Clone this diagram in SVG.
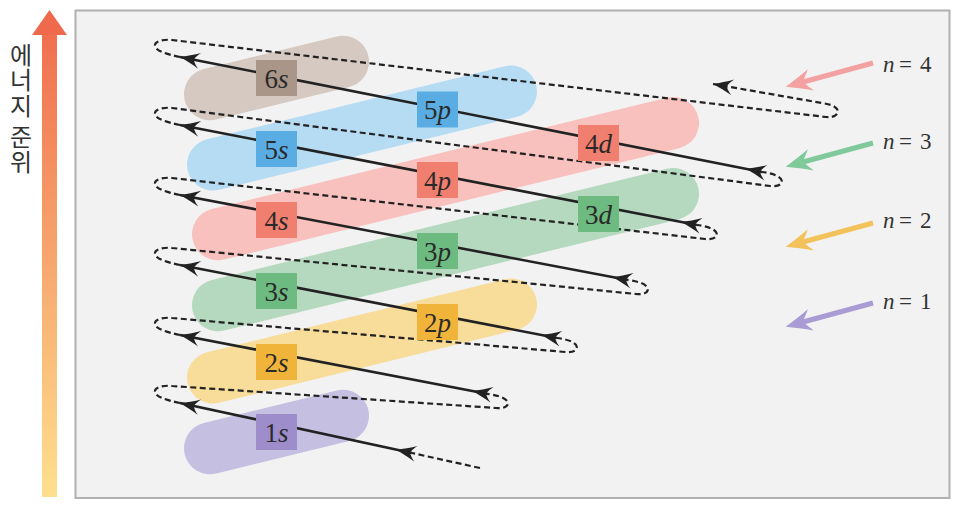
<svg xmlns="http://www.w3.org/2000/svg" width="960" height="510" viewBox="0 0 960 510">
<defs>
<style>
.band{fill:none;stroke-linecap:round;stroke-width:52}
.box{stroke:none}
.lbl{font-family:'Liberation Serif','Times New Roman',serif;font-size:27px;fill:#2a2a2a;text-anchor:middle}
.it{font-style:italic}
.solid{fill:none;stroke:#222;stroke-width:2.6}
.dash{fill:none;stroke:#222;stroke-width:2.2;stroke-dasharray:6 3.5}
.nlbl{font-family:'Liberation Serif','Times New Roman',serif;font-size:23px;fill:#333}
.carrow{fill:none;stroke-width:5}
</style>
<linearGradient id="eg" x1="0" y1="10" x2="0" y2="497" gradientUnits="userSpaceOnUse">
<stop offset="0" stop-color="#ef6a4c"/>
<stop offset="1" stop-color="#fee08e"/>
</linearGradient>
<marker id="aEnd" viewBox="-22 -10 24 20" markerWidth="24" markerHeight="20" refX="0" refY="0" orient="auto" markerUnits="userSpaceOnUse">
<path d="M0,0 C-6,-2 -14,-5 -20,-8 C-16,-4 -15,-2 -14,0 C-15,2 -16,4 -20,8 C-14,5 -6,2 0,0Z" fill="#222"/>
</marker>
<marker id="aStart" viewBox="-22 -10 24 20" markerWidth="24" markerHeight="20" refX="-16" refY="0" orient="auto" markerUnits="userSpaceOnUse">
<path d="M0,0 C-6,-2 -14,-5 -20,-8 C-16,-4 -15,-2 -14,0 C-15,2 -16,4 -20,8 C-14,5 -6,2 0,0Z" fill="#222"/>
</marker>
<marker id="mPink" viewBox="-28 -12 30 24" markerWidth="30" markerHeight="24" refX="-18" refY="0" orient="auto" markerUnits="userSpaceOnUse">
<path d="M0,0 C-8,-3 -18,-7 -26,-11 C-22,-5 -19,-2 -18,0 C-19,2 -22,5 -26,11 C-18,7 -8,3 0,0Z" fill="#f4a1a1"/>
</marker>
<marker id="mGreen" viewBox="-28 -12 30 24" markerWidth="30" markerHeight="24" refX="-18" refY="0" orient="auto" markerUnits="userSpaceOnUse">
<path d="M0,0 C-8,-3 -18,-7 -26,-11 C-22,-5 -19,-2 -18,0 C-19,2 -22,5 -26,11 C-18,7 -8,3 0,0Z" fill="#80c99b"/>
</marker>
<marker id="mYellow" viewBox="-28 -12 30 24" markerWidth="30" markerHeight="24" refX="-18" refY="0" orient="auto" markerUnits="userSpaceOnUse">
<path d="M0,0 C-8,-3 -18,-7 -26,-11 C-22,-5 -19,-2 -18,0 C-19,2 -22,5 -26,11 C-18,7 -8,3 0,0Z" fill="#f3c25a"/>
</marker>
<marker id="mPurple" viewBox="-28 -12 30 24" markerWidth="30" markerHeight="24" refX="-18" refY="0" orient="auto" markerUnits="userSpaceOnUse">
<path d="M0,0 C-8,-3 -18,-7 -26,-11 C-22,-5 -19,-2 -18,0 C-19,2 -22,5 -26,11 C-18,7 -8,3 0,0Z" fill="#a99bd3"/>
</marker>
</defs>
<rect width="960" height="510" fill="#ffffff"/>
<!-- energy axis -->
<g id="energy-axis">
<rect x="42" y="34" width="15" height="463" fill="url(#eg)"/>
<polygon points="32,35 49.5,10 67,35" fill="#ef6a4c"/>
<text x="21" y="43" writing-mode="vertical-rl" style="writing-mode:vertical-rl" letter-spacing="1.2" font-family="'Noto Sans CJK KR','Noto Sans',sans-serif" font-size="24" fill="#333">에너지 준위</text>
</g>
<!-- panel -->
<rect id="panel" x="75.5" y="10.5" width="874" height="487.5" fill="#f2f2f2" stroke="#b0b0b0" stroke-width="2"/>
<!-- shell bands -->
<g id="bands">
<line class="band" x1="210" y1="448.3" x2="343" y2="415.7" stroke="#c5bfe1"/>
<line class="band" x1="213" y1="377.6" x2="511" y2="304.5" stroke="#f8dc9a"/>
<line class="band" x1="218" y1="305.3" x2="673" y2="193.9" stroke="#b5d9be"/>
<line class="band" x1="218" y1="234.3" x2="673" y2="122.9" stroke="#f8c1bd"/>
<line class="band" x1="213" y1="164.6" x2="511" y2="91.5" stroke="#b6dcf4"/>
<line class="band" x1="210" y1="94.3" x2="343" y2="61.7" stroke="#d6c9c1"/>
</g>
<!-- connectors -->
<g id="connectors">
<path class="dash" d="M480,468 L412,453"/>
<path class="solid" d="M412,453 L180,403" marker-start="url(#aStart)" marker-end="url(#aEnd)"/>
<path class="dash" d="M180,403 C166,400 156,397 155,392 C154,387 164,385 172,386 L496,408 C504,409 510,406 507,401 C504,397 496,395 488,394"/>
<path class="solid" d="M488,394 L180,335" marker-start="url(#aStart)" marker-end="url(#aEnd)"/>
<path class="dash" d="M180,335 C166,332 156,329 155,324 C154,319 164,317 172,318 L565,352 C573,353 579,350 576,345 C573,341 565,339 557,338"/>
<path class="solid" d="M557,338 L180,265" marker-start="url(#aStart)" marker-end="url(#aEnd)"/>
<path class="dash" d="M180,265 C166,262 156,259 155,254 C154,249 164,247 172,248 L636,294 C644,295 650,292 647,287 C644,283 636,281 628,280"/>
<path class="solid" d="M628,280 L180,195" marker-start="url(#aStart)" marker-end="url(#aEnd)"/>
<path class="dash" d="M180,195 C166,192 156,189 155,184 C154,179 164,177 172,178 L705,239 C713,240 719,237 716,232 C713,228 705,226 697,225"/>
<path class="solid" d="M697,225 L180,125" marker-start="url(#aStart)" marker-end="url(#aEnd)"/>
<path class="dash" d="M180,125 C166,122 156,119 155,114 C154,109 164,107 172,108 L770,186 C778,187 784,184 781,179 C778,175 770,173 762,172"/>
<path class="solid" d="M762,172 L180,57" marker-start="url(#aStart)" marker-end="url(#aEnd)"/>
<path class="dash" d="M180,57 C166,54 156,51 155,46 C154,41 164,39 172,40 L826,117 C834,118 840,114 837,109 C834,105 828,104 822,103 L713,84" marker-end="url(#aEnd)"/>
</g>
<!-- orbital labels -->
<g id="o6s"><rect class="box" x="256" y="60" width="41" height="36" fill="#a99688"/><text class="lbl" x="276.5" y="87.5">6<tspan class="it">s</tspan></text></g>
<g id="o5s"><rect class="box" x="256" y="131" width="41" height="36" fill="#5aade2"/><text class="lbl" x="276.5" y="158.5">5<tspan class="it">s</tspan></text></g>
<g id="o4s"><rect class="box" x="256" y="202" width="41" height="36" fill="#f17f6f"/><text class="lbl" x="276.5" y="229.5">4<tspan class="it">s</tspan></text></g>
<g id="o3s"><rect class="box" x="256" y="273" width="41" height="36" fill="#6dbb80"/><text class="lbl" x="276.5" y="300.5">3<tspan class="it">s</tspan></text></g>
<g id="o2s"><rect class="box" x="256" y="344" width="41" height="36" fill="#f0b43b"/><text class="lbl" x="276.5" y="371.5">2<tspan class="it">s</tspan></text></g>
<g id="o1s"><rect class="box" x="256" y="414" width="41" height="36" fill="#9d8ecb"/><text class="lbl" x="276.5" y="441.5">1<tspan class="it">s</tspan></text></g>
<g id="o5p"><rect class="box" x="417" y="91.5" width="41" height="36" fill="#5aade2"/><text class="lbl" x="437.5" y="119">5<tspan class="it">p</tspan></text></g>
<g id="o4p"><rect class="box" x="417" y="162" width="41" height="36" fill="#f17f6f"/><text class="lbl" x="437.5" y="189.5">4<tspan class="it">p</tspan></text></g>
<g id="o3p"><rect class="box" x="417" y="233" width="41" height="36" fill="#6dbb80"/><text class="lbl" x="437.5" y="260.5">3<tspan class="it">p</tspan></text></g>
<g id="o2p"><rect class="box" x="417" y="304" width="41" height="36" fill="#f0b43b"/><text class="lbl" x="437.5" y="331.5">2<tspan class="it">p</tspan></text></g>
<g id="o4d"><rect class="box" x="578" y="125" width="41" height="36" fill="#f17f6f"/><text class="lbl" x="598.5" y="152.5">4<tspan class="it">d</tspan></text></g>
<g id="o3d"><rect class="box" x="578" y="196" width="41" height="36" fill="#6dbb80"/><text class="lbl" x="598.5" y="223.5">3<tspan class="it">d</tspan></text></g>
<!-- shell arrows -->
<g id="n4"><line class="carrow" x1="873" y1="63" x2="803" y2="82" stroke="#f4a1a1" marker-end="url(#mPink)"/><text class="nlbl" y="72"><tspan class="it" x="883">n</tspan><tspan x="899">=</tspan><tspan x="920">4</tspan></text></g>
<g id="n3"><line class="carrow" x1="873" y1="143" x2="803" y2="162" stroke="#80c99b" marker-end="url(#mGreen)"/><text class="nlbl" y="149"><tspan class="it" x="883">n</tspan><tspan x="899">=</tspan><tspan x="920">3</tspan></text></g>
<g id="n2"><line class="carrow" x1="873" y1="223" x2="803" y2="242" stroke="#f3c25a" marker-end="url(#mYellow)"/><text class="nlbl" y="228"><tspan class="it" x="883">n</tspan><tspan x="899">=</tspan><tspan x="920">2</tspan></text></g>
<g id="n1"><line class="carrow" x1="873" y1="303" x2="803" y2="322" stroke="#a99bd3" marker-end="url(#mPurple)"/><text class="nlbl" y="309"><tspan class="it" x="883">n</tspan><tspan x="899">=</tspan><tspan x="920">1</tspan></text></g>
</svg>
